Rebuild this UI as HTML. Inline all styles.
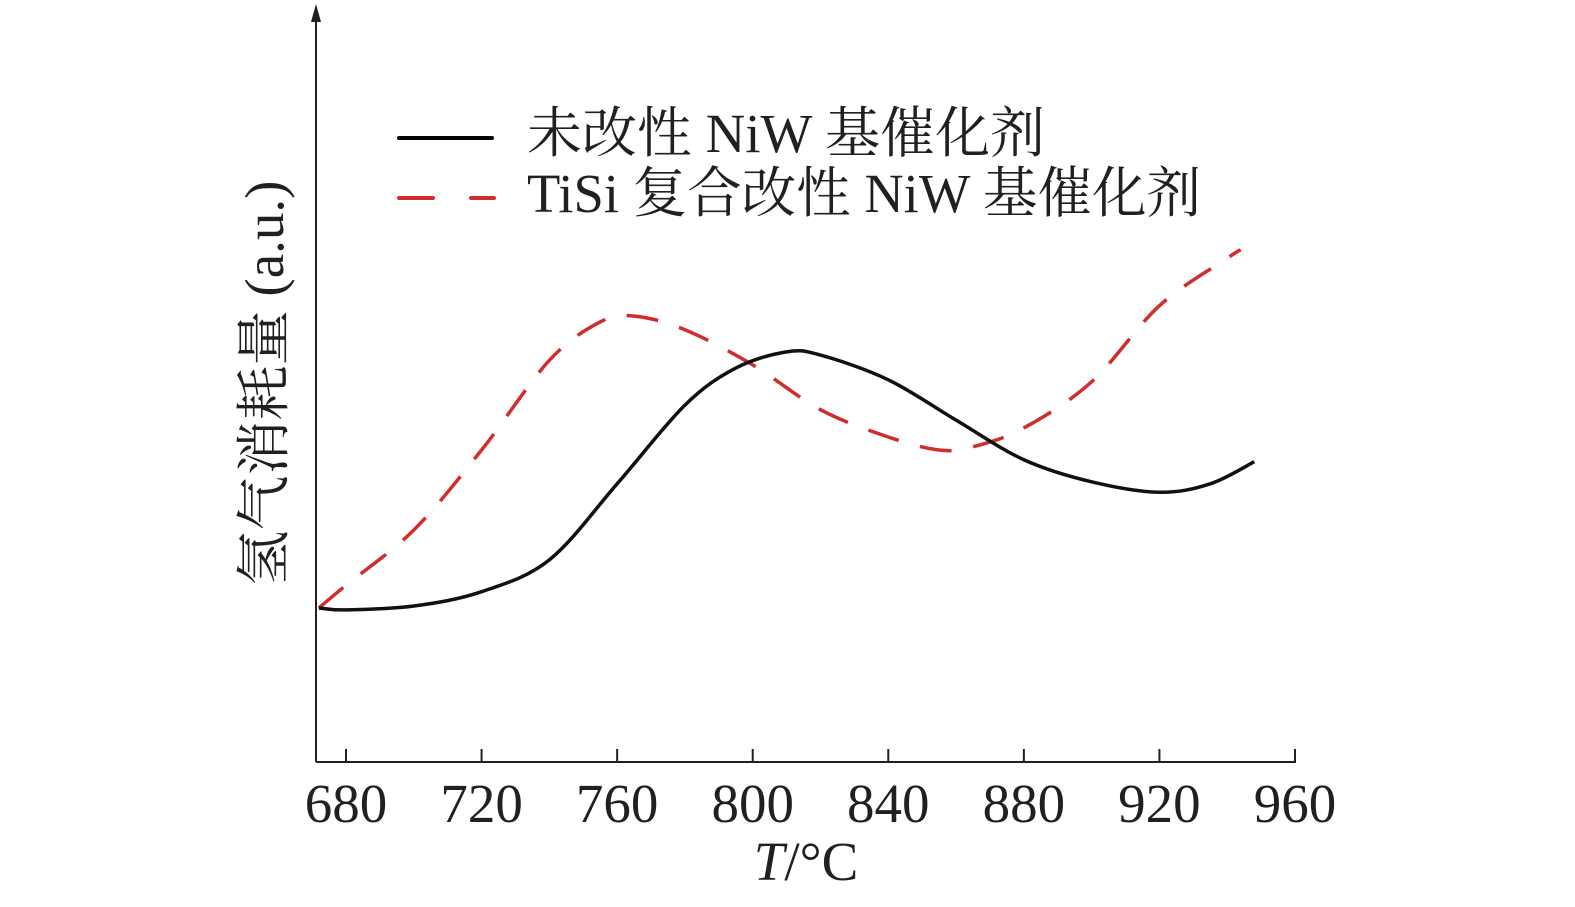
<!DOCTYPE html>
<html><head><meta charset="utf-8"><style>
body{margin:0;background:#fff;}
svg{display:block;}
text{font-family:"Liberation Serif","Noto Serif CJK SC",serif;fill:#231f20;}
</style></head><body>
<svg id="chart" width="1575" height="907" viewBox="0 0 1575 907" xmlns="http://www.w3.org/2000/svg">
<g id="axes"></g>
<g id="series"></g>
<g>
  <line x1="399" y1="138" x2="492" y2="138" stroke="#000" stroke-width="4" stroke-linecap="round"/>
  <text x="527" y="152" font-size="55" textLength="518" lengthAdjust="spacingAndGlyphs">未改性 NiW 基催化剂</text>
  <line x1="399" y1="198" x2="494" y2="198" stroke="#d02d2d" stroke-width="4" stroke-linecap="round" stroke-dasharray="34,38"/>
  <text x="527" y="212" font-size="55" textLength="674" lengthAdjust="spacingAndGlyphs">TiSi 复合改性 NiW 基催化剂</text>
</g>
<text transform="translate(283,383) rotate(-90)" text-anchor="middle" font-size="55" textLength="405" lengthAdjust="spacingAndGlyphs">氢气消耗量 (a.u.)</text>
<text x="806" y="880" text-anchor="middle" font-size="55"><tspan font-style="italic">T</tspan>/°C</text>
</svg>
<script>
const xTicks = [680,720,760,800,840,880,920,960];
const tempsBlack = [672,680,700,720,740,760,780,795,810,820,840,860,880,900,920,935,948];
const valuesBlack = [23.7,23.4,24.0,26.2,31.1,42.8,54.9,60.6,63.1,62.6,58.8,52.6,46.5,43.1,41.5,42.8,46.2];
const tempsRed = [672,680,700,720,740,755,765,780,800,820,840,855,865,880,900,920,940,944];
const valuesRed = [23.7,27.2,35.7,48.0,61.8,67.7,68.6,66.5,61.1,54.2,50.0,48.0,48.5,51.4,58.5,70.2,77.5,78.8];

const NS='http://www.w3.org/2000/svg';
function xs(t){return 346+(t-680)*(1295-346)/280;}
function ys(v){return 762-v*6.5;}
const axes=document.getElementById('axes');
function mk(tag,attrs,parent){const e=document.createElementNS(NS,tag);for(const k in attrs)e.setAttribute(k,attrs[k]);parent.appendChild(e);return e;}
const xa=mk('line',{x1:316,y1:762,x2:1296,y2:762,stroke:'#231f20','stroke-width':2},axes);


const ya=mk('line',{x1:316,y1:762,x2:316,y2:12,stroke:'#231f20','stroke-width':2},axes);


const ar=mk('polygon',{points:'316,4 311,22 321,22',fill:'#231f20'},axes);


xTicks.forEach(t=>{
  const tk=mk('line',{x1:xs(t),y1:762,x2:xs(t),y2:749,stroke:'#231f20','stroke-width':2},axes);
  
  
  const lb=mk('text',{x:xs(t),y:822,'text-anchor':'middle','font-size':55},axes);
  lb.textContent=t;
  
  
});
function path(ts,vs){
  const p=ts.map((t,i)=>[xs(t),ys(vs[i])]);
  let d='M'+p[0][0]+','+p[0][1];
  for(let i=0;i<p.length-1;i++){
    const p0=p[i-1]||p[i],p1=p[i],p2=p[i+1],p3=p[i+2]||p2;
    const c1x=p1[0]+(p2[0]-p0[0])/6,c1y=p1[1]+(p2[1]-p0[1])/6;
    const c2x=p2[0]-(p3[0]-p1[0])/6,c2y=p2[1]-(p3[1]-p1[1])/6;
    d+=' C'+c1x+','+c1y+' '+c2x+','+c2y+' '+p2[0]+','+p2[1];
  }
  return d;
}
const s=document.getElementById('series');
const r=mk('path',{d:path(tempsRed,valuesRed),fill:'none',stroke:'#d02d2d','stroke-width':3.5,'stroke-dasharray':'32,22'},s);


const b=mk('path',{d:path(tempsBlack,valuesBlack),fill:'none',stroke:'#111','stroke-width':3.5},s);


</script>
</body></html>
